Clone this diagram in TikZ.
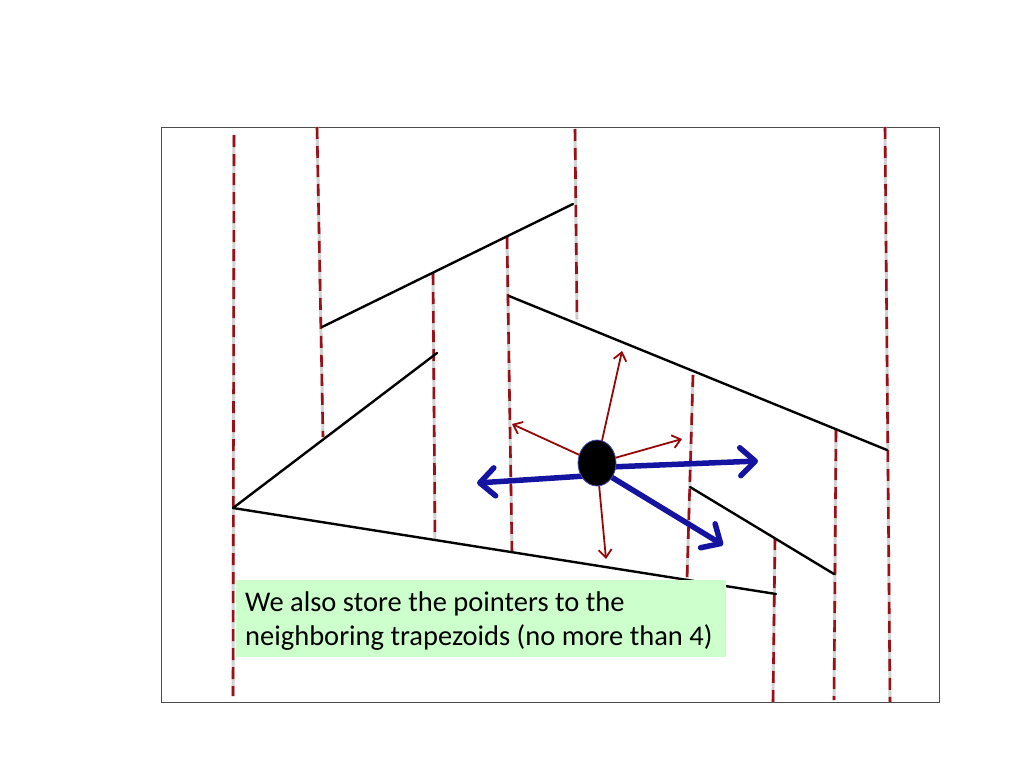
\documentclass[tikz,border=0pt]{standalone}
\usepackage{fontspec}
\setmainfont{Carlito}
\usetikzlibrary{arrows.meta,shapes.geometric}
\definecolor{dred}{RGB}{155,15,22}
\definecolor{ared}{RGB}{150,8,8}
\definecolor{dblue}{RGB}{20,20,160}
\definecolor{boxgreen}{RGB}{204,255,204}
\tikzset{
  wall/.style={draw=gray!35,line width=3pt},
  vdash/.style={draw=dred,line width=2.6pt,dash pattern=on 12pt off 7pt},
  seg/.style={draw=black,line width=2.4pt,line cap=round},
  redarr/.style={draw=ared,line width=1.8pt,-{Straight Barb[length=8pt,width=13pt]}},
  bluearr/.style={draw=dblue,line width=5.5pt,line cap=round,-{Straight Barb[length=15pt,width=28pt,round]}},
  frame/.style={draw=gray!60!black,line width=1pt},
  notebox/.style={fill=boxgreen,draw=none,anchor=north west,minimum width=490pt,minimum height=77pt,inner sep=0pt},
  notetext/.style={anchor=base west,inner sep=0pt,align=left,font=\fontsize{28.5}{34}\selectfont}
}
\begin{document}
\begin{tikzpicture}[x=1pt,y=-1pt]
\useasboundingbox (0,0) rectangle (1024,768);
\fill[white] (0,0) rectangle (1024,768);
\draw[frame] (161,127) rectangle (939,702);
% dashed verticals end points
\coordinate (a1) at (234,135); \coordinate (a2) at (233,696);
\coordinate (b1) at (317,127); \coordinate (b2) at (323,437);
\coordinate (c1) at (433,273); \coordinate (c2) at (435,540);
\coordinate (d1) at (507,237); \coordinate (d2) at (512,553);
\coordinate (e1) at (575,129); \coordinate (e2) at (577,319);
\coordinate (f1) at (693,375); \coordinate (f2) at (687,580);
\coordinate (g1) at (775,538); \coordinate (g2) at (773,702);
\coordinate (h1) at (836,430); \coordinate (h2) at (834,700);
\coordinate (i1) at (885,127); \coordinate (i2) at (890,702);
\foreach \p in {a,b,c,d,e,f,g,h,i}{
  \draw[wall] (\p1) -- (\p2);
  \draw[vdash] (\p1) -- (\p2);
}
% segments
\coordinate (s1a) at (322,327); \coordinate (s1b) at (573,204);
\coordinate (s2a) at (509,296); \coordinate (s2b) at (887,450);
\coordinate (s3a) at (233,508); \coordinate (s3b) at (437,353);
\coordinate (s4b) at (776,594);
\coordinate (s5a) at (690,487); \coordinate (s5b) at (834,574);
\draw[seg] (s1a) -- (s1b);
\draw[seg] (s2a) -- (s2b);
\draw[seg] (s3a) -- (s3b);
\draw[seg] (s3a) -- (s4b);
\draw[seg] (s5a) -- (s5b);
% text box
\node[notebox] (note) at (236,580) {};
\node[notetext] (notetxt) at (245,645) {We also store the pointers to the\\neighboring trapezoids (no more than 4)};
% query point and pointers
\coordinate (pc) at (597,463);
\coordinate (r1) at (622,351); \coordinate (r2) at (512,424);
\coordinate (r3) at (682,439); \coordinate (r4) at (606,559);
\coordinate (bl0) at (585,476); \coordinate (bl) at (477,483);
\coordinate (br0) at (610,467); \coordinate (br) at (758,461);
\coordinate (bd0) at (608,475); \coordinate (bd) at (723,545);
\draw[redarr] (pc) -- (r1);
\draw[redarr] (pc) -- (r2);
\draw[redarr] (pc) -- (r3);
\draw[redarr] (pc) -- (r4);
\draw[bluearr] (bl0) -- (bl);
\draw[bluearr] (br0) -- (br);
\draw[bluearr] (bd0) -- (bd);
\node[ellipse,fill=black,draw=blue!40!gray,line width=0.8pt,minimum width=38pt,minimum height=46pt,inner sep=0pt] (pt) at (pc) {};
\end{tikzpicture}
\end{document}
